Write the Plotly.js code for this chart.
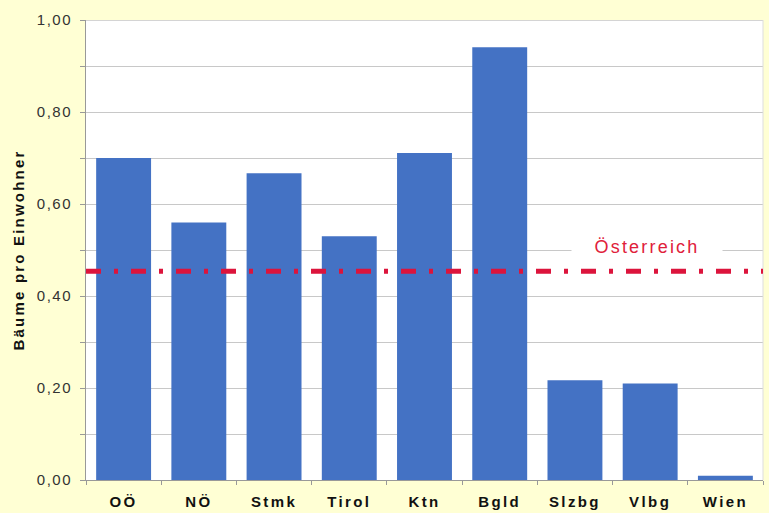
<!DOCTYPE html>
<html><head><meta charset="utf-8">
<script src="https://cdn.plot.ly/plotly-3.0.1.min.js"></script>
<style>
html,body{margin:0;padding:0;background:#FFFFD4;}
#c{width:769px;height:513px;}
#c .ytick text{letter-spacing:1.5px;}
#c .xtick text{letter-spacing:2.4px;}
#c text.ytitle{letter-spacing:2.2px;}
#c text.annotation-text{letter-spacing:2.2px;}
</style>
</head><body><div id="c"></div>
<script>
const categories = ["OÖ","NÖ","Stmk","Tirol","Ktn","Bgld","Slzbg","Vlbg","Wien"];
const values = [0.70, 0.56, 0.667, 0.53, 0.711, 0.941, 0.217, 0.21, 0.009];
const austriaValue = 0.454;
const austriaLabel = "Österreich";
const yTickVals = [0, 0.2, 0.4, 0.6, 0.8, 1.0];
const yTickText = ["0,00","0,20","0,40","0,60","0,80","1,00"];

const FONT = "Liberation Sans, Arial, sans-serif";
const traces = [{
  type: "bar", x: categories, y: values,
  marker: {color: "#4472C4"}, hoverinfo: "skip"
}];
const layout = {
  width: 769, height: 513,
  margin: {l: 86, r: 6, t: 20, b: 33},
  paper_bgcolor: "#FFFFD4", plot_bgcolor: "#FFFFFF",
  showlegend: false, bargap: 0.27,
  font: {family: FONT, color: "#333"},
  xaxis: {
    type: "category", tickson: "boundaries", ticks: "outside", ticklen: 4,
    tickcolor: "#999", showline: true, linecolor: "#999", linewidth: 1,
    showgrid: false, ticklabelstandoff: 8,
    tickfont: {size: 15, color: "#111", family: FONT, weight: "bold"},
    range: [-0.5, 8.5]
  },
  yaxis: {
    range: [0, 1.0], tickvals: yTickVals, ticktext: yTickText,
    ticks: "outside", ticklen: 5, tickcolor: "#999",
    showline: true, linecolor: "#999", linewidth: 1, mirror: false,
    showgrid: true, gridcolor: "#C8C8C8", gridwidth: 1, ticklabelstandoff: 5,
    minor: {dtick: 0.1, showgrid: true, gridcolor: "#C8C8C8", ticks: "outside", ticklen: 5, tickcolor: "#999"},
    tickfont: {size: 15, color: "#333"}, zeroline: false,
    title: {text: "<b>Bäume pro Einwohner</b>", font: {size: 15, color: "#111"}, standoff: 14}
  },
  shapes: [
    {type: "line", xref: "paper", x0: 0, x1: 1, yref: "y", y0: 1, y1: 1, line: {color: "#AAAAAA", width: 1}},
    {type: "line", xref: "paper", x0: 1, x1: 1, yref: "y", y0: 0, y1: 1, line: {color: "#DDDDDD", width: 1}},
    {type: "line", xref: "paper", x0: 0, x1: 1, yref: "y", y0: austriaValue, y1: austriaValue,
     line: {color: "#DC143C", width: 5, dash: "15px,13px,4px,13px"}}
  ],
  annotations: [{
    x: 6.96, y: 0.507, xref: "x", yref: "y", text: austriaLabel, showarrow: false,
    font: {size: 18, color: "#E0203A"}, bgcolor: "#FFFFFF", borderpad: 0, width: 150, height: 22
  }]
};
Plotly.newPlot("c", traces, layout, {displayModeBar: false, staticPlot: true});
</script></body></html>
